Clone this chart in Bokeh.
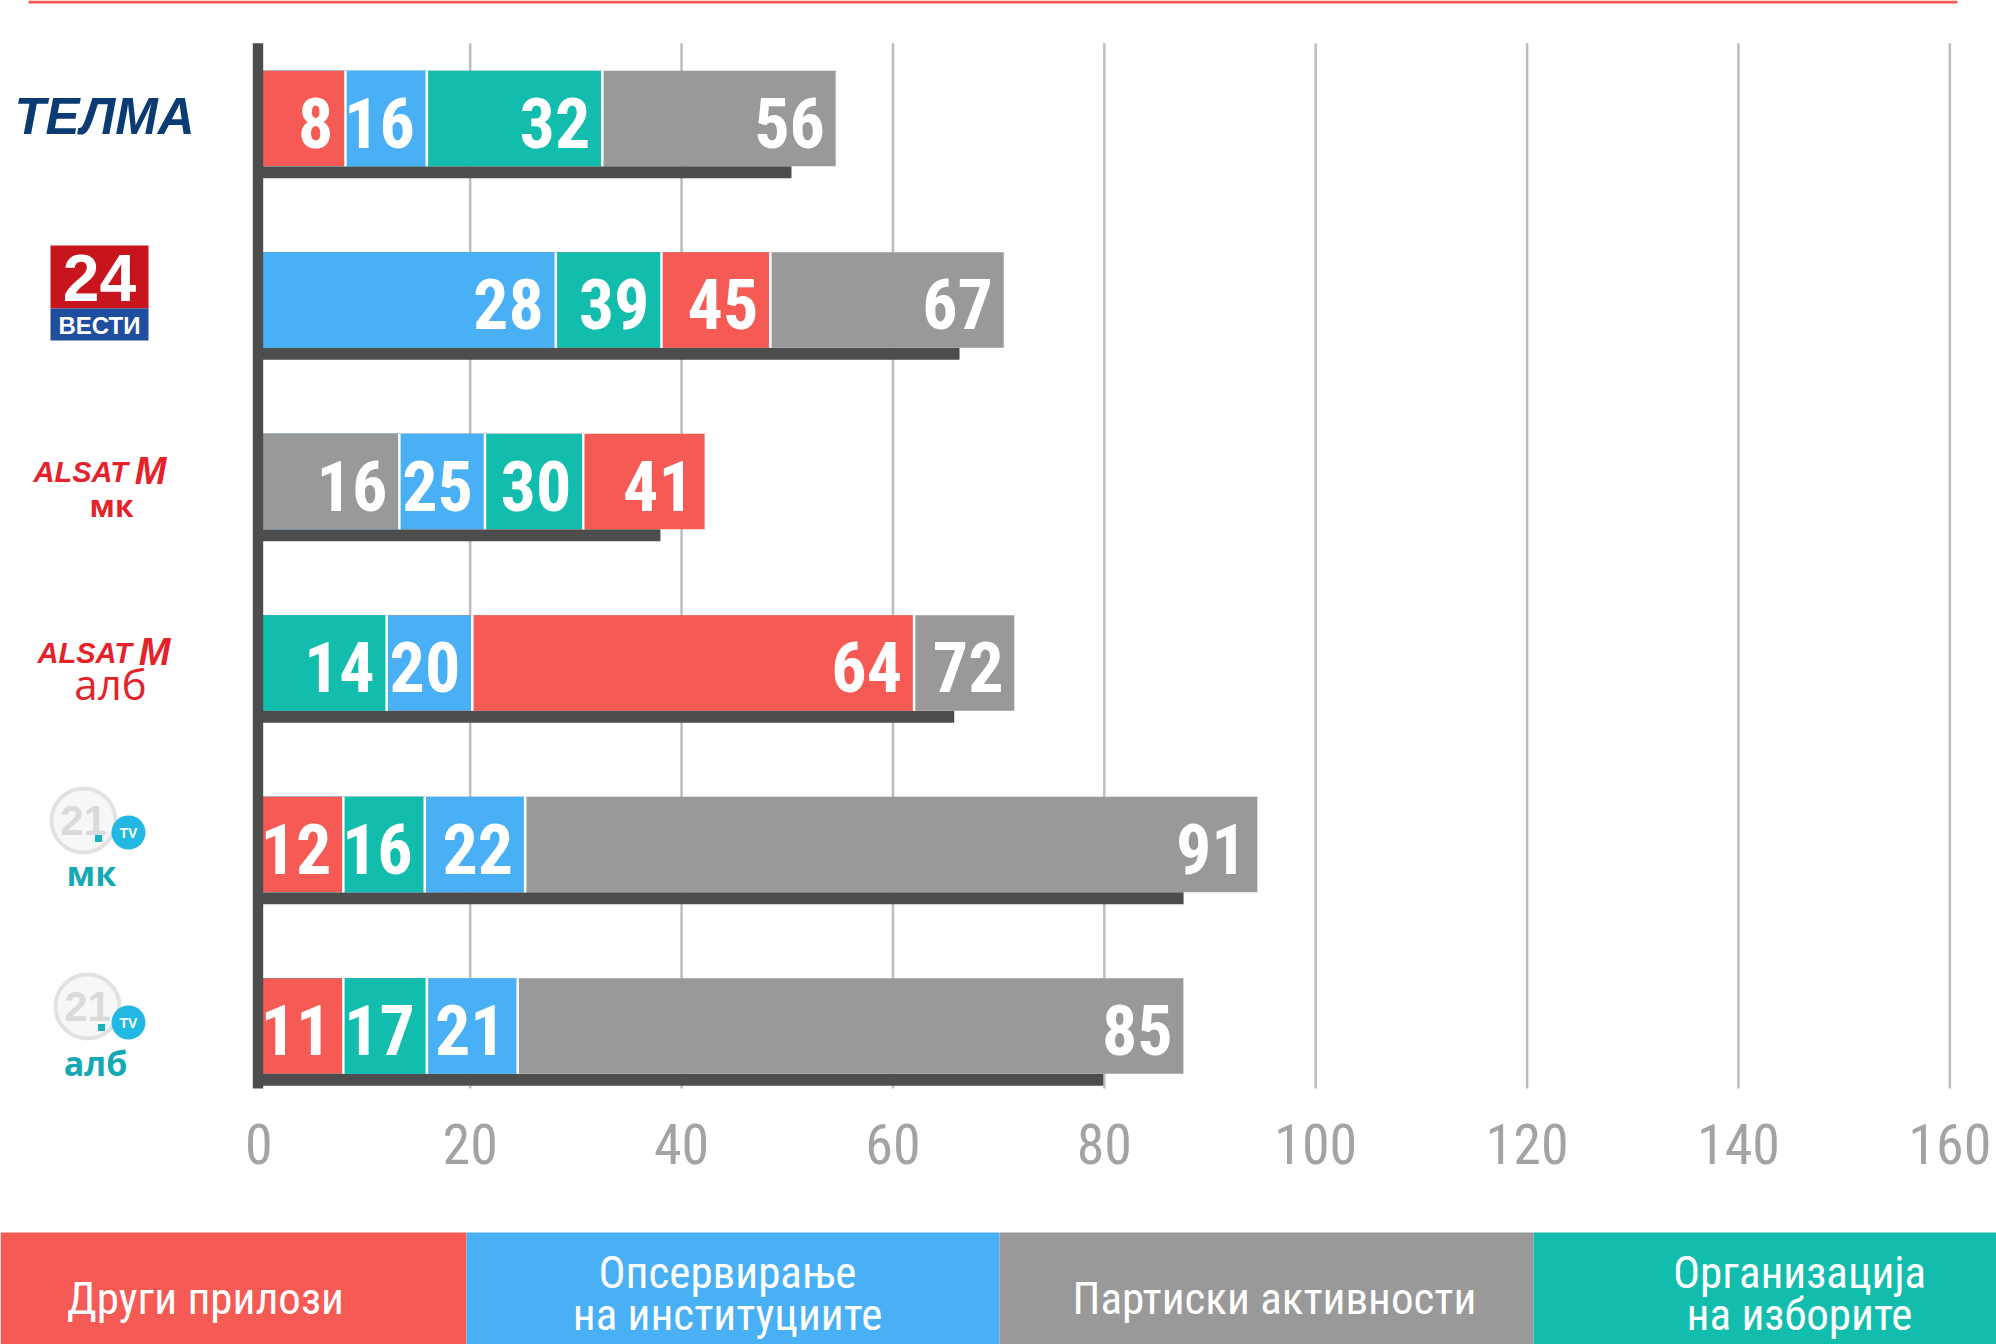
from bokeh.plotting import figure
from bokeh.models import Range1d, ColumnDataSource
from bokeh.core.properties import value
from bokeh.embed import file_html
from bokeh.resources import INLINE

# ---------------- data ----------------
channels = ["ТЕЛМА", "24 Вести", "Алсат М мк", "Алсат М алб", "21 ТВ мк", "21 ТВ алб"]
series_names = ["Други прилози", "Опсервирање\nна институциите", "Партиски активности", "Организација\nна изборите"]
series_colors = ["#F55A55", "#4AB0F5", "#999999", "#12BDAD"]

# values written on the bars
other_labels = [8, 45, 41, 64, 12, 11]
observ_labels = [16, 28, 25, 20, 22, 21]
party_labels = [56, 67, 16, 72, 91, 85]
org_labels = [32, 39, 30, 14, 16, 17]

# bar lengths as drawn in the picture (axis units)
other_len = [8.2, 48.4, 42.3, 62.0, 8.0, 8.0]
observ_len = [15.9, 28.1, 21.4, 20.2, 25.2, 24.5]
party_len = [54.7, 70.6, 13.3, 71.6, 94.6, 87.6]
org_len = [32.5, 38.1, 30.7, 12.1, 15.7, 15.9]
shadow_len = [50.4, 66.3, 38.0, 65.8, 87.5, 79.9]

ticks = [0, 20, 40, 60, 80, 100, 120, 140, 160]
tick_labels = ["0", "20", "40", "60", "80", "100", "120", "140", "160"]

# ---------------- layout (picture pixels) ----------------
W, H = 1996, 1344
PX0, PXU = 258.3, 10.569      # x pixel of value 0, px per unit
ROW0, ROWH = 118.0, 181.5     # y pixel of first row centre, row pitch


def fx(px):
    return (px - PX0) / PXU


def fy(py):
    return -(py - ROW0) / ROWH


BAR_H = 95.7 / ROWH
SH_H = 12.0 / ROWH

NUM_FONT = "Roboto Condensed, Liberation Sans Narrow, Roboto"
LEG_FONT = "Roboto Condensed, Liberation Sans Narrow, Roboto"

p = figure(width=W, height=H, x_range=Range1d(fx(0), fx(W)),
           y_range=Range1d(fy(H), fy(0)), output_backend="svg",
           toolbar_location=None, min_border=0, x_axis_location=None,
           y_axis_location=None)
p.grid.visible = False
p.outline_line_color = None
p.background_fill_color = "white"
p.border_fill_color = "white"

# top red rule
p.quad(left=[fx(28)], right=[fx(1957)], top=[fy(0)], bottom=[fy(3)],
       fill_color="#F55A55", line_color=None)

# grid lines
p.segment(x0=ticks[1:], x1=ticks[1:], y0=[fy(42.7)] * 8, y1=[fy(1088)] * 8,
          line_color="#BDBDBD", line_width=2.5)

# shadow bars
rows_y = [-i for i in range(len(channels))]
p.hbar(y=[r - BAR_H / 2 - SH_H / 2 for r in rows_y], left=0, right=shadow_len,
       height=SH_H, fill_color="#4D4D4D", line_color=None)

# overlapping bars
recs = []
for lens, labs, col in [(other_len, other_labels, series_colors[0]),
                        (observ_len, observ_labels, series_colors[1]),
                        (party_len, party_labels, series_colors[2]),
                        (org_len, org_labels, series_colors[3])]:
    for i in range(len(channels)):
        recs.append((lens[i], rows_y[i], col, str(labs[i])))
recs.sort(key=lambda r: -r[0])
src = ColumnDataSource(dict(right=[r[0] for r in recs], y=[r[1] for r in recs],
                            color=[r[2] for r in recs], label=[r[3] for r in recs],
                            y0=[r[1] - BAR_H / 2 for r in recs],
                            y1=[r[1] + BAR_H / 2 for r in recs]))
p.hbar(y="y", left=0, right="right", height=BAR_H, fill_color="color",
       line_color=None, source=src)
p.segment(x0="right", x1="right", y0="y0", y1="y1", line_color="white",
          line_width=2.5, source=src)
p.text(x="right", y="y", text="label", source=src, x_offset=-12, y_offset=4,
       text_align="right", text_baseline="middle", text_color="white",
       text_font=value(NUM_FONT), text_font_style="bold", text_font_size="70px")

# vertical axis line
p.quad(left=[fx(252.3)], right=[fx(262.7)], top=[fy(42.7)], bottom=[fy(1088)],
       fill_color="#4D4D4D", line_color=None)

# tick labels
p.text(x=ticks, y=[fy(1143.5)] * len(ticks), text=tick_labels, x_offset=0,
       text_align="center", text_baseline="middle", text_color="#A3A3A3",
       text_font=value(NUM_FONT), text_font_size="56px")

# legend
leg_edges = [0, 466, 999, 1533, 1996]
for k in range(4):
    p.quad(left=[fx(leg_edges[k])], right=[fx(leg_edges[k + 1])],
           top=[fy(1232)], bottom=[fy(1360)], fill_color=series_colors[k],
           line_color=None)
leg_cx = [205, 727, 1274, 1799]
for k, name in enumerate(series_names):
    lines = name.split("\n")
    mids = [1298] if len(lines) == 1 else [1272, 1314]
    p.text(x=[fx(leg_cx[k])] * len(lines), y=[fy(m) for m in mids], text=lines,
           text_align="center", text_baseline="middle", text_color="white",
           text_font=value(LEG_FONT), text_font_size="45px")


def txt(px, py, s, size, color, style="normal", font="Liberation Sans",
        align="center"):
    p.text(x=[fx(px)], y=[fy(py)], text=[s], text_align=align,
           text_baseline="middle", text_color=color, text_font=value(font),
           text_font_style=style, text_font_size=f"{size}px")


# ---- channel logos (as text) ----
# TELMA
txt(104, 116, "ТЕЛМА", 51, "#0B3B73", "bold italic")
# 24 ВЕСТИ
p.quad(left=[fx(50)], right=[fx(148)], top=[fy(245)], bottom=[fy(308)],
       fill_color="#C8151D", line_color=None)
p.quad(left=[fx(50)], right=[fx(148)], top=[fy(308)], bottom=[fy(340)],
       fill_color="#1F4E9E", line_color=None)
txt(99, 277, "24", 66, "white", "bold")
txt(99, 325, "ВЕСТИ", 24, "white", "bold")
# ALSAT M мк
txt(33, 471, "ALSAT", 29, "#E52229", "bold italic", align="left")
txt(150, 470, "M", 38, "#E52229", "bold italic")
txt(111, 505, "мк", 30, "#E52229", "bold", font="Open Sans")
# ALSAT M алб
txt(37, 652, "ALSAT", 29, "#E52229", "bold italic", align="left")
txt(154, 651, "M", 38, "#E52229", "bold italic")
txt(110, 683, "алб", 42, "#E52229", "normal", font="Open Sans")
# 21 TV мк / алб
for cx, cy, bx, by, dx, dy, sub, sx, sy in [(83, 820, 128, 832, 98, 838, "мк", 91, 872),
                                            (87, 1006, 128, 1022, 101, 1027, "алб", 95, 1062)]:
    p.scatter(x=[fx(cx)], y=[fy(cy)], size=64, marker="circle",
              fill_color="#F7F7F7", line_color="#E2E2E2", line_width=4)
    txt(cx, cy, "21", 42, "#DADADA", "bold")
    p.scatter(x=[fx(bx)], y=[fy(by)], size=34, marker="circle",
              fill_color="#22B8E3", line_color=None)
    txt(bx, by, "TV", 14, "white", "bold")
    p.scatter(x=[fx(dx)], y=[fy(dy)], size=7, marker="square",
              fill_color="#16B3BE", line_color=None)
    txt(sx, sy, sub, 34, "#16A9B5", "bold", font="Open Sans")

open("out.html", "w").write(file_html(p, INLINE))
